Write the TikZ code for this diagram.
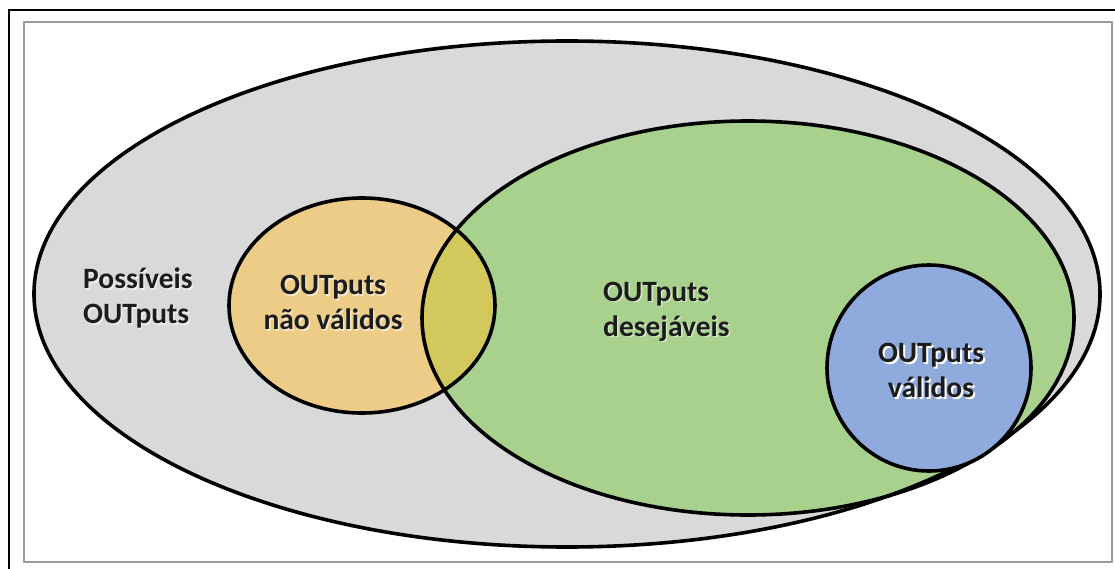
\documentclass[tikz,border=0pt]{standalone}
\usepackage{fontspec}
\setmainfont{Carlito}
\definecolor{setgray}{HTML}{D9D9D9}
\definecolor{setorange}{HTML}{EDCC88}
\definecolor{setgreen}{HTML}{A9D18E}
\definecolor{setlens}{HTML}{D3C85C}
\definecolor{setblue}{HTML}{8FAADC}
\definecolor{labeltext}{HTML}{1C1C1C}
\definecolor{framegray}{HTML}{9A9A9A}
\begin{document}
\begin{tikzpicture}[x=1pt,y=-1pt,
  setline/.style={draw=black,line width=3.6pt},
  setlabel/.style={font=\bfseries\fontsize{29.5}{35}\selectfont,text=labeltext,inner sep=0pt},
  labelshadow/.style={setlabel,text=white,text opacity=#1},
  labelshadow/.default=0.55]
\useasboundingbox (0,0) rectangle (1115,569);
\fill[white] (0,0) rectangle (1115,569);
% outer frame and inner panel
\draw[black,line width=2.5pt] (9,569) -- (9,10) -- (1115,10);
\draw[framegray,line width=2pt] (24,22) rectangle (1112,562);

% set centres
\coordinate (cAll) at (567,294);
\coordinate (cNao) at (362,305.5);
\coordinate (cDes) at (748,318);
\coordinate (cVal) at (929,368);

% fills
\fill[setgray] (cAll) ellipse [x radius=533pt, y radius=253pt];
\fill[setorange] (cNao) ellipse [x radius=133pt, y radius=107.5pt];
\fill[setgreen] (cDes) ellipse [x radius=326pt, y radius=197pt];
\begin{scope}
  \clip (cNao) ellipse [x radius=133pt, y radius=107.5pt];
  \fill[setlens] (cDes) ellipse [x radius=326pt, y radius=197pt];
\end{scope}

% outlines
\draw[setline] (cAll) ellipse [x radius=533pt, y radius=253pt];
\draw[setline] (cNao) ellipse [x radius=133pt, y radius=107.5pt];
\draw[setline] (cDes) ellipse [x radius=326pt, y radius=197pt];
\path[setline,fill=setblue] (cVal) ellipse [x radius=102pt, y radius=103pt];

% labels
\node[labelshadow,anchor=west,align=left] (possShadow) at (84.5,299.5) {Possíveis\\OUTputs};
\node[setlabel,anchor=west,align=left] (poss) at (83,298) {Possíveis\\OUTputs};

\node[labelshadow,align=center] (naoShadow) at (334.5,304) {OUTputs\\não válidos};
\node[setlabel,align=center] (nao) at (333,302.5) {OUTputs\\não válidos};

\node[labelshadow,anchor=west,align=left] (desShadow) at (604.5,313) {OUTputs\\desejáveis};
\node[setlabel,anchor=west,align=left] (des) at (603,311.5) {OUTputs\\desejáveis};

\node[labelshadow=1,align=center] (valShadow) at (933,372.5) {OUTputs\\válidos};
\node[setlabel,align=center] (val) at (931,370.5) {OUTputs\\válidos};
\end{tikzpicture}
\end{document}
